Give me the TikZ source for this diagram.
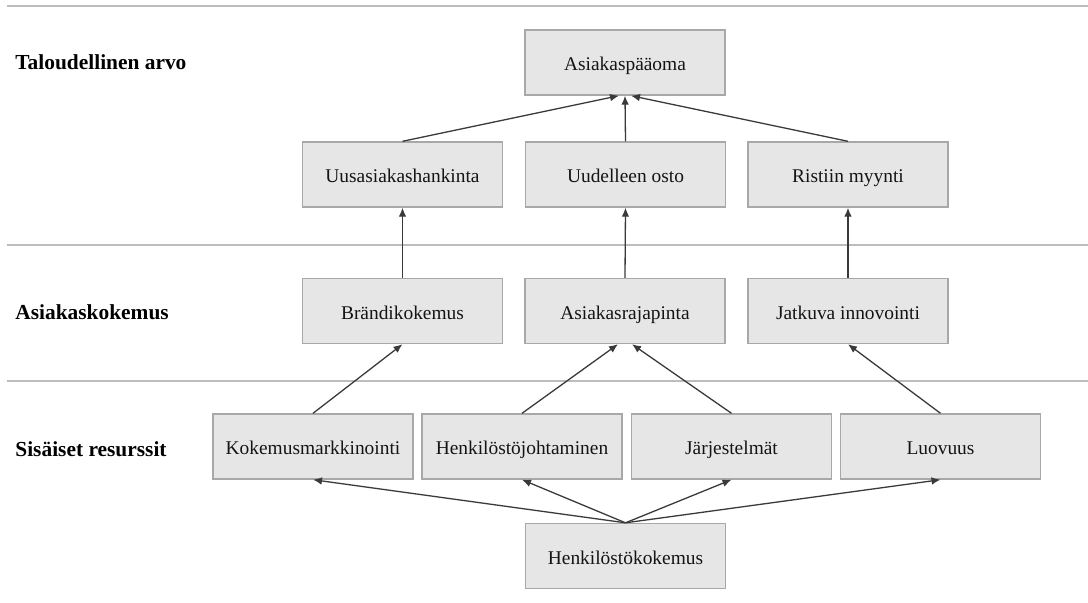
\documentclass[tikz,border=0pt]{standalone}
\usepackage{fontspec}
\setmainfont{Liberation Serif}
\usetikzlibrary{arrows.meta,calc}
\definecolor{boxfill}{HTML}{E6E6E6}
\definecolor{boxline}{HTML}{A8A8A8}
\definecolor{sepline}{HTML}{BDBDBD}
\definecolor{arrowcol}{HTML}{3A3A3A}
\tikzset{
  box/.style={draw=boxline, fill=boxfill, line width=0.7pt, rectangle,
    minimum width=100pt, minimum height=32.5pt, inner sep=0pt,
    text height=9pt, text depth=1pt,
    font=\fontsize{9.7pt}{11pt}\selectfont, text=black!92},
  level/.style={anchor=west, inner sep=0pt, font=\bfseries\fontsize{10.7pt}{12pt}\selectfont},
  sep/.style={draw=sepline, line width=0.75pt},
  link/.style={draw=arrowcol, line width=0.65pt, -{Latex[length=4.5pt,width=3.8pt]}}
}
\begin{document}
\begin{tikzpicture}[x=0.5pt,y=-0.5pt]
\useasboundingbox (0,0) rectangle (1088,602);

% separators between levels
\coordinate (s1a) at (7,6);   \coordinate (s1b) at (1088,6);
\coordinate (s2a) at (7,245); \coordinate (s2b) at (1088,245);
\coordinate (s3a) at (7,381); \coordinate (s3b) at (1088,381);
\draw[sep] (s1a) -- (s1b);
\draw[sep] (s2a) -- (s2b);
\draw[sep] (s3a) -- (s3b);

% level titles
\node[level] (l1) at (15,62) {Taloudellinen arvo};
\node[level] (l2) at (15,312) {Asiakaskokemus};
\node[level] (l3) at (15,449) {Sisäiset resurssit};

% economic value
\node[box] (top) at (625,62.5) {Asiakaspääoma};
\node[box] (u1) at (402.5,174.5) {Uusasiakashankinta};
\node[box] (u2) at (625.5,174.5) {Uudelleen osto};
\node[box] (u3) at (848,174.5) {Ristiin myynti};

% customer experience
\node[box] (b1) at (402.5,311) {Brändikokemus};
\node[box] (b2) at (625,311) {Asiakasrajapinta};
\node[box] (b3) at (848,311) {Jatkuva innovointi};

% internal resources
\node[box] (r1) at (313,446.5) {Kokemusmarkkinointi};
\node[box] (r2) at (522,446.5) {Henkilöstöjohtaminen};
\node[box] (r3) at (731.5,446.5) {Järjestelmät};
\node[box] (r4) at (940.5,446.5) {Luovuus};
\node[box] (hk) at (625.5,556) {Henkilöstökokemus};

% connectors
\draw[link] (u1.north) -- ($(top.south)+(-6,0)$);
\draw[link] (u2.north) -- (top.south);
\draw[link] (u3.north) -- ($(top.south)+(6,0)$);

\draw[link] (b1.north) -- (u1.south);
\draw[link] (b2.north) -- (u2.south);
\draw[link] (b3.north) -- (u3.south);

\draw[link] (r1.north) -- (b1.south);
\draw[link] (r2.north) -- ($(b2.south)+(-7,0)$);
\draw[link] (r3.north) -- ($(b2.south)+(7,0)$);
\draw[link] (r4.north) -- (b3.south);

\draw[link] (hk.north) -- (r1.south);
\draw[link] (hk.north) -- (r2.south);
\draw[link] (hk.north) -- (r3.south);
\draw[link] (hk.north) -- (r4.south);
\end{tikzpicture}
\end{document}
